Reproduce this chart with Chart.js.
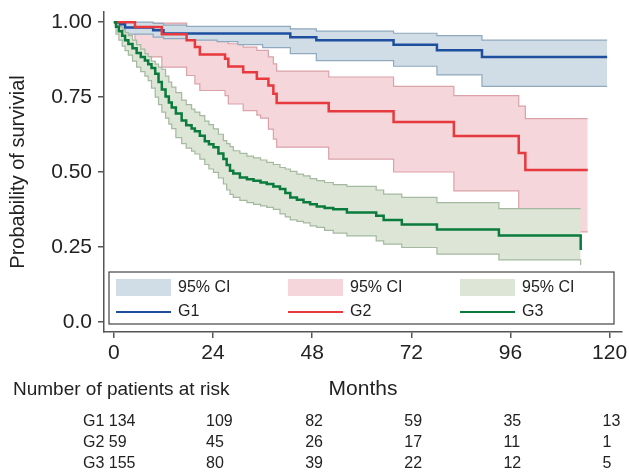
<!DOCTYPE html>
<html>
<head>
<meta charset="utf-8">
<script src="https://cdn.jsdelivr.net/npm/chart.js@4.4.1/dist/chart.umd.min.js"></script>
<style>
  html, body { margin: 0; padding: 0; background: #fff; }
  canvas { display: block; }
</style>
</head>
<body>
<canvas id="km-chart" width="629" height="472" style="width:629px;height:472px"></canvas>
<script>
// ---------- data ----------
const monthTicks = [0, 24, 48, 72, 96, 120];
const yTicks = [0, 0.25, 0.5, 0.75, 1];
const yTickLabels = ['0.0', '0.25', '0.50', '0.75', '1.00'];
const groupNames = ['G1', 'G2', 'G3'];

const g1Time  = [0, 1.5, 2.7, 9.5, 12, 17.6, 25, 30, 36, 42.7, 49, 67.7, 78.2, 89.1, 119.4];
const g1Surv  = [1, 0.993, 0.982, 0.973, 0.962, 0.962, 0.962, 0.962, 0.962, 0.95, 0.94, 0.925, 0.906, 0.884, 0.884];
const g1Upper = [1, 1, 1, 0.996, 0.99, 0.986, 0.986, 0.986, 0.986, 0.978, 0.97, 0.963, 0.955, 0.94, 0.94];
const g1Lower = [1, 0.975, 0.96, 0.95, 0.945, 0.94, 0.935, 0.925, 0.915, 0.895, 0.872, 0.853, 0.824, 0.786, 0.786];

const g2Time  = [0, 5.1, 11.6, 17.6, 19.6, 20.8, 26.9, 27.7, 31.3, 34.6, 35.5, 37.4, 38.6, 39.4, 52, 67.7, 82.3, 98, 99.6, 114.7];
const g2Surv  = [1, 0.984, 0.96, 0.94, 0.917, 0.892, 0.878, 0.852, 0.833, 0.811, 0.811, 0.789, 0.761, 0.73, 0.703, 0.667, 0.62, 0.563, 0.507, 0.507];
const g2Upper = [1, 0.997, 0.997, 0.984, 0.967, 0.96, 0.945, 0.928, 0.917, 0.906, 0.906, 0.884, 0.861, 0.837, 0.817, 0.786, 0.755, 0.72, 0.678, 0.678];
const g2Lower = [1, 0.884, 0.85, 0.822, 0.794, 0.772, 0.755, 0.727, 0.705, 0.69, 0.68, 0.643, 0.61, 0.583, 0.543, 0.5, 0.437, 0.305, 0.3, 0.3];

const g3Time  = [0, 0.5, 1.2, 2, 2.7, 3.5, 4.5, 5.5, 6.5, 7.5, 8.3, 9.1, 10, 10.8, 11.6, 12.5, 13.3, 14, 15, 16.4,
                 17.5, 18.8, 19.6, 20.8, 22, 23, 24.1, 25.3, 26.5, 27.3, 28.1, 28.9, 30.5, 32.2, 33.8, 35.5, 37, 38.6,
                 40.2, 41.5, 42.7, 44.3, 45.9, 47.5, 49.1, 51, 53.1, 56.4, 63.5, 65.3, 69.7, 78.2, 93.2, 113];
const g3Surv  = [1, 0.985, 0.97, 0.955, 0.94, 0.927, 0.913, 0.897, 0.884, 0.872, 0.86, 0.847, 0.828, 0.8, 0.775, 0.752,
                 0.732, 0.715, 0.695, 0.672, 0.656, 0.645, 0.636, 0.621, 0.603, 0.593, 0.583, 0.562, 0.543, 0.523, 0.504,
                 0.495, 0.482, 0.476, 0.471, 0.465, 0.46, 0.452, 0.443, 0.43, 0.415, 0.407, 0.399, 0.392, 0.385, 0.38,
                 0.376, 0.365, 0.354, 0.34, 0.325, 0.308, 0.288, 0.24];
const g3Upper = [1, 0.995, 0.985, 0.975, 0.965, 0.955, 0.94, 0.925, 0.91, 0.895, 0.885, 0.87, 0.86, 0.85, 0.843, 0.82,
                 0.8, 0.783, 0.765, 0.74, 0.725, 0.71, 0.7, 0.688, 0.67, 0.658, 0.644, 0.626, 0.605, 0.595, 0.585,
                 0.571, 0.562, 0.553, 0.547, 0.54, 0.532, 0.525, 0.515, 0.51, 0.502, 0.493, 0.487, 0.478, 0.471, 0.465,
                 0.458, 0.452, 0.44, 0.426, 0.415, 0.398, 0.378, 0.378];
const g3Lower = [1, 0.96, 0.94, 0.92, 0.905, 0.89, 0.87, 0.85, 0.835, 0.82, 0.805, 0.78, 0.75, 0.725, 0.7, 0.68,
                 0.66, 0.645, 0.615, 0.595, 0.58, 0.57, 0.56, 0.543, 0.525, 0.51, 0.499, 0.48, 0.46, 0.44, 0.425,
                 0.415, 0.405, 0.398, 0.392, 0.387, 0.382, 0.375, 0.36, 0.35, 0.34, 0.335, 0.33, 0.32, 0.315, 0.305,
                 0.296, 0.287, 0.27, 0.259, 0.248, 0.226, 0.207, 0.19];

const riskG1 = [134, 109, 82, 59, 35, 13];
const riskG2 = [59, 45, 26, 17, 11, 1];
const riskG3 = [155, 80, 39, 22, 12, 5];

// ---------- styling ----------
const FONT = '"Liberation Sans", Arial, Helvetica, sans-serif';
const TEXT = '#222';
const AXIS = '#555';
const lineColors = ['#1d4f9e', '#e8393e', '#0b7b3d'];
const bandFills = ['#d0dce6', '#f5d6da', '#dde5d7'];
const bandEdges = ['#8fa9be', '#dba2a9', '#a4b99f'];
const bandOrder = [11, 12, 10];   // red band painted first, then blue, then green on top

const pts = (t, v) => t.map((x, i) => ({ x, y: v[i] }));

function groupSets(k, time, surv, upper, lower) {
    const base = { stepped: true, pointRadius: 0, tension: 0 };
    return [
        // upper edge carries the fill, drawn just before its lower edge
        { ...base, label: '95% CI', data: pts(time, upper), borderColor: bandEdges[k], borderWidth: 1.2,
          backgroundColor: bandFills[k], fill: '+1', order: bandOrder[k] + 0.5 },
        { ...base, label: '95% CI lower', data: pts(time, lower), borderColor: bandEdges[k], borderWidth: 1.2,
          fill: false, order: bandOrder[k] },
        { ...base, label: groupNames[k], data: pts(time, surv), borderColor: lineColors[k], borderWidth: 2.5,
          fill: false, order: 3 - k }
    ];
}

const datasets = [
    ...groupSets(0, g1Time, g1Surv, g1Upper, g1Lower),
    ...groupSets(1, g2Time, g2Surv, g2Upper, g2Lower),
    ...groupSets(2, g3Time, g3Surv, g3Upper, g3Lower)
];

// no automatic label overhang padding, chart area is fixed by the layout padding
const noOverhang = s => { s.paddingTop = 0; s.paddingBottom = 0; s.paddingLeft = 0; s.paddingRight = 0; };

// legend box inside the plot + number-at-risk table under it
const extras = {
    id: 'extras',
    afterDraw(chart) {
        const { ctx, chartArea: a, scales: { x } } = chart;
        ctx.save();

        const boxL = a.left + 5, boxR = a.right - 8, boxT = a.bottom - 60, boxB = a.bottom - 8;
        ctx.fillStyle = '#fff';
        ctx.fillRect(boxL, boxT, boxR - boxL, boxB - boxT);
        ctx.strokeStyle = '#444';
        ctx.lineWidth = 1.2;
        ctx.strokeRect(boxL, boxT, boxR - boxL, boxB - boxT);

        ctx.font = '16px ' + FONT;
        ctx.textBaseline = 'middle';
        ctx.textAlign = 'left';
        groupNames.forEach((g, i) => {
            const cx = boxL + 7 + i * 172;
            ctx.fillStyle = bandFills[i];
            ctx.fillRect(cx, boxT + 7, 55, 17);
            ctx.fillStyle = TEXT;
            ctx.fillText('95% CI', cx + 62, boxT + 16);
            ctx.strokeStyle = lineColors[i];
            ctx.lineWidth = 2;
            ctx.beginPath();
            ctx.moveTo(cx, boxT + 40);
            ctx.lineTo(cx + 55, boxT + 40);
            ctx.stroke();
            ctx.fillText(g, cx + 62, boxT + 40);
        });

        ctx.fillStyle = TEXT;
        ctx.font = '19px ' + FONT;
        ctx.fillText('Number of patients at risk', 13, 390);

        ctx.font = '16px ' + FONT;
        [riskG1, riskG2, riskG3].forEach((row, r) => {
            const yy = 422 + r * 21;
            ctx.fillText(groupNames[r] + ' ' + row[0], 83, yy);
            for (let j = 1; j < row.length; j++) {
                ctx.fillText(String(row[j]), x.getPixelForValue(monthTicks[j]) - 7, yy);
            }
        });
        ctx.restore();
    }
};

const ctx = document.getElementById('km-chart').getContext('2d');
new Chart(ctx, {
    type: 'line',
    data: { datasets },
    options: {
        responsive: false,
        animation: false,
        events: [],
        layout: { padding: { top: 12, right: 7, left: 0, bottom: 0 } },
        plugins: {
            legend: { display: false },
            tooltip: { enabled: false },
            filler: { propagate: false }
        },
        scales: {
            x: {
                type: 'linear',
                min: -2.4,
                max: 123,
                afterBuildTicks: s => { s.ticks = monthTicks.map(v => ({ value: v })); },
                afterFit: s => { s.height = 140; noOverhang(s); },
                grid: { drawOnChartArea: false, drawTicks: true, tickLength: 6, color: AXIS, lineWidth: 1.5 },
                border: { display: true, color: AXIS, width: 1.5 },
                ticks: { color: TEXT, font: { family: FONT, size: 21 }, padding: 3, maxRotation: 0, autoSkip: false },
                title: { display: true, text: 'Months', color: TEXT, font: { family: FONT, size: 21 },
                         padding: { top: 0, bottom: 70 } }
            },
            y: {
                min: -0.034,
                max: 1.034,
                afterBuildTicks: s => { s.ticks = yTicks.map(v => ({ value: v })); },
                afterFit: s => { s.width = 104; noOverhang(s); },
                grid: { drawOnChartArea: false, drawTicks: true, tickLength: 6, color: AXIS, lineWidth: 1.5 },
                border: { display: true, color: AXIS, width: 1.5 },
                ticks: { color: TEXT, font: { family: FONT, size: 21 }, padding: 6,
                         callback: (v, i) => yTickLabels[i] },
                title: { display: true, text: 'Probability of survivial', color: TEXT,
                         font: { family: FONT, size: 20 }, padding: { top: 6, bottom: 0 } }
            }
        }
    },
    plugins: [extras]
});
</script>
</body>
</html>
